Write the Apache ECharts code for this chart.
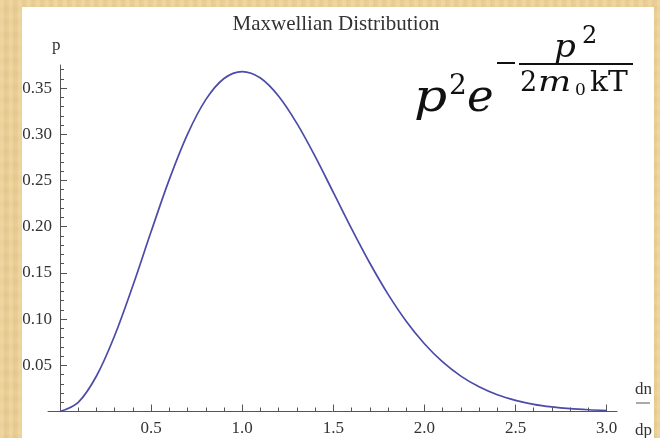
<!DOCTYPE html>
<html>
<head>
<meta charset="utf-8">
<script src="https://cdn.jsdelivr.net/npm/echarts@6/dist/echarts.min.js"></script>
<style>
  html, body { margin: 0; padding: 0; }
  body {
    width: 660px; height: 438px; overflow: hidden; position: relative;
    background-color: #e9cd94;
    background-image:
      repeating-linear-gradient(90deg, rgba(255,240,200,0.18) 0px, rgba(255,240,200,0.18) 3px, rgba(200,160,90,0.10) 5px, rgba(255,240,200,0.0) 9px),
      repeating-linear-gradient(0deg, rgba(210,170,100,0.10) 0px, rgba(255,235,190,0.12) 6px, rgba(210,170,100,0.08) 13px);
  }
  #panel { position: absolute; left: 22px; top: 7px; width: 632px; height: 431px; background: #ffffff; }
  #chart { position: absolute; left: 0; top: 0; width: 660px; height: 438px; }
</style>
</head>
<body>
<div id="panel"></div>
<div id="chart"></div>
<script>
// Momentum values p and the distribution height at each p
const pValues = [0.0, 0.1, 0.2, 0.3, 0.4, 0.5, 0.6, 0.7, 0.8, 0.9,
                 1.0, 1.1, 1.2, 1.3, 1.4, 1.5, 1.6, 1.7, 1.8, 1.9,
                 2.0, 2.1, 2.2, 2.3, 2.4, 2.5, 2.6, 2.7, 2.8, 2.9, 3.0];
const density = [0.0000, 0.0099, 0.0384, 0.0822, 0.1363, 0.1947, 0.2512, 0.3002, 0.3375, 0.3604,
                 0.3679, 0.3609, 0.3412, 0.3118, 0.2761, 0.2371, 0.1979, 0.1607, 0.1270, 0.0977,
                 0.0733, 0.0536, 0.0383, 0.0267, 0.0181, 0.0121, 0.0078, 0.0050, 0.0031, 0.0019, 0.0011];

// Tick positions
const xMajorTicks = [0.5, 1.0, 1.5, 2.0, 2.5, 3.0];
const xMinorTicks = [0.1, 0.2, 0.3, 0.4, 0.6, 0.7, 0.8, 0.9, 1.1, 1.2, 1.3, 1.4,
                     1.6, 1.7, 1.8, 1.9, 2.1, 2.2, 2.3, 2.4, 2.6, 2.7, 2.8, 2.9];
const yMajorTicks = [0.05, 0.10, 0.15, 0.20, 0.25, 0.30, 0.35];
const yMinorTicks = [0.01, 0.02, 0.03, 0.04, 0.06, 0.07, 0.08, 0.09, 0.11, 0.12, 0.13, 0.14,
                     0.16, 0.17, 0.18, 0.19, 0.21, 0.22, 0.23, 0.24, 0.26, 0.27, 0.28, 0.29,
                     0.31, 0.32, 0.33, 0.34, 0.36, 0.37];

const titleText = 'Maxwellian Distribution';

const serif = '"Liberation Serif", "Times New Roman", serif';
const mathFont = '"DejaVu Serif", serif';
const axisColor = '#555555';
const labelColor = '#333333';

const X_MIN = -0.066, X_MAX = 3.057, Y_MIN = 0, Y_MAX = 0.375;

function fmt(v, d) { return Number(v).toFixed(d); }

const chart = echarts.init(document.getElementById('chart'), null, { renderer: 'canvas' });

// a single glyph of the formula; sx widens it about its own left edge
function glyph(text, x, y, size, italic, sx) {
  return {
    type: 'text', x: x, y: y, scaleX: sx || 1, originX: 0, originY: 0,
    style: { text: text, font: (italic ? 'italic ' : '') + size + 'px ' + mathFont, fill: '#111' }
  };
}

const option = {
  backgroundColor: 'transparent',
  animation: false,
  title: {
    text: titleText,
    left: 331, top: 9, textAlign: 'center',
    textStyle: { fontFamily: serif, fontSize: 21, fontWeight: 'normal', color: labelColor }
  },
  grid: { left: 48, top: 65, width: 569, height: 346.5, containLabel: false },
  xAxis: [
    {
      type: 'value', min: X_MIN, max: X_MAX, position: 'bottom',
      axisLine: { show: true, onZero: false, lineStyle: { color: axisColor, width: 1 } },
      axisTick: { show: true, inside: true, length: 7, customValues: xMajorTicks, lineStyle: { color: axisColor } },
      axisLabel: { show: true, customValues: xMajorTicks, margin: 9, formatter: v => fmt(v, 1),
                   fontFamily: serif, fontSize: 17, color: labelColor },
      splitLine: { show: false }
    },
    {
      type: 'value', min: X_MIN, max: X_MAX, position: 'bottom',
      axisLine: { show: false, onZero: false },
      axisTick: { show: true, inside: true, length: 4, customValues: xMinorTicks, lineStyle: { color: axisColor } },
      axisLabel: { show: false },
      splitLine: { show: false }
    }
  ],
  yAxis: [
    {
      type: 'value', min: Y_MIN, max: Y_MAX, position: 'left', offset: -12,
      axisLine: { show: true, onZero: false, lineStyle: { color: axisColor, width: 1 } },
      axisTick: { show: true, inside: true, length: 7, customValues: yMajorTicks, lineStyle: { color: axisColor } },
      axisLabel: { show: true, customValues: yMajorTicks, margin: 8, formatter: v => fmt(v, 2),
                   fontFamily: serif, fontSize: 17, color: labelColor },
      splitLine: { show: false }
    },
    {
      type: 'value', min: Y_MIN, max: Y_MAX, position: 'left', offset: -12,
      axisLine: { show: false, onZero: false },
      axisTick: { show: true, inside: true, length: 4, customValues: yMinorTicks, lineStyle: { color: axisColor } },
      axisLabel: { show: false },
      splitLine: { show: false }
    }
  ],
  series: [{
    type: 'line',
    xAxisIndex: 0, yAxisIndex: 0,
    data: pValues.map((p, i) => [p, density[i]]),
    smooth: 0.35,
    showSymbol: false,
    lineStyle: { color: '#4b4ba9', width: 1.7 },
    clip: false
  }],
  graphic: [
    // axis names
    { type: 'text', x: 52, y: 37, style: { text: 'p', font: '17px ' + serif, fill: labelColor } },
    { type: 'text', x: 635, y: 381, style: { text: 'dn', font: '17px ' + serif, fill: labelColor } },
    { type: 'line', shape: { x1: 636, y1: 403, x2: 650, y2: 403 }, style: { stroke: '#555', lineWidth: 1 } },
    { type: 'text', x: 635, y: 422, style: { text: 'dp', font: '17px ' + serif, fill: labelColor } },
    // formula  p^2 e^(-p^2 / 2 m0 kT)
    glyph('p', 414, 77, 45, true, 1.15),
    glyph('2', 449, 73, 28, false),
    glyph('e', 467, 77, 45, true),
    { type: 'line', shape: { x1: 497, y1: 63, x2: 515, y2: 63 }, style: { stroke: '#111', lineWidth: 2 } },
    { type: 'line', shape: { x1: 519, y1: 64, x2: 633, y2: 64 }, style: { stroke: '#111', lineWidth: 1.8 } },
    glyph('p', 554, 33, 31, true, 1.1),
    glyph('2', 582, 25, 24, false),
    glyph('2', 520, 70, 27, false),
    glyph('m', 538, 70, 28, true, 1.25),
    glyph('0', 575, 82, 17, false),
    glyph('kT', 590, 70, 27, false, 1.1)
  ]
};

chart.setOption(option);
</script>
</body>
</html>
